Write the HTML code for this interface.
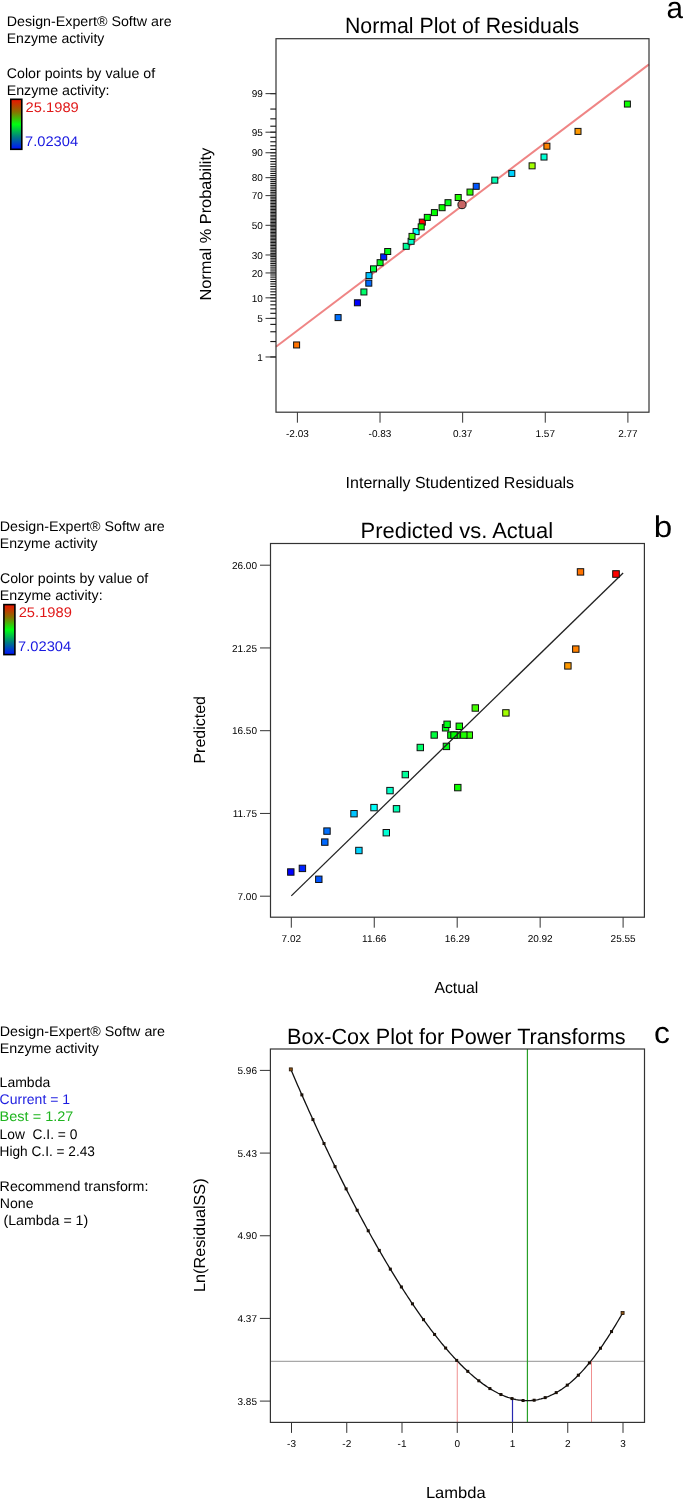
<!DOCTYPE html>
<html><head><meta charset="utf-8"><style>
html,body{margin:0;padding:0;background:#fff;}
body{width:685px;height:1499px;overflow:hidden;}
svg{display:block;font-family:"Liberation Sans",sans-serif;will-change:transform;text-rendering:geometricPrecision;}
</style></head><body>
<svg width="685" height="1499" viewBox="0 0 685 1499">
<rect width="685" height="1499" fill="#fff"/>
<defs><linearGradient id="cb" x1="0" y1="0" x2="0" y2="1"><stop offset="0" stop-color="#ee1100"/><stop offset="0.25" stop-color="#8a7000"/><stop offset="0.5" stop-color="#00ff10"/><stop offset="0.75" stop-color="#007f80"/><stop offset="1" stop-color="#0010ff"/></linearGradient></defs>
<text x="6.70" y="25.90" font-size="14" textLength="164.90" lengthAdjust="spacingAndGlyphs">Design-Expert® Softw are</text>
<text x="6.70" y="42.90" font-size="14" textLength="97.72" lengthAdjust="spacingAndGlyphs">Enzyme activity</text>
<text x="6.80" y="77.80" font-size="14" textLength="148.34" lengthAdjust="spacingAndGlyphs">Color points by value of</text>
<text x="6.70" y="94.80" font-size="14" textLength="102.79" lengthAdjust="spacingAndGlyphs">Enzyme activity:</text>
<rect x="10.80" y="99.30" width="11.00" height="50.00" fill="url(#cb)" stroke="#000" stroke-width="1.6"/>
<text x="25.60" y="111.70" font-size="14" textLength="53.20" lengthAdjust="spacingAndGlyphs" fill="#e01818">25.1989</text>
<text x="25.00" y="145.70" font-size="14" textLength="53.10" lengthAdjust="spacingAndGlyphs" fill="#1818e0">7.02304</text>
<text x="-0.20" y="531.20" font-size="14" textLength="164.90" lengthAdjust="spacingAndGlyphs">Design-Expert® Softw are</text>
<text x="-0.20" y="548.20" font-size="14" textLength="97.72" lengthAdjust="spacingAndGlyphs">Enzyme activity</text>
<text x="-0.10" y="583.10" font-size="14" textLength="148.34" lengthAdjust="spacingAndGlyphs">Color points by value of</text>
<text x="-0.20" y="600.10" font-size="14" textLength="102.79" lengthAdjust="spacingAndGlyphs">Enzyme activity:</text>
<rect x="3.90" y="604.60" width="11.00" height="50.00" fill="url(#cb)" stroke="#000" stroke-width="1.6"/>
<text x="18.70" y="617.00" font-size="14" textLength="53.20" lengthAdjust="spacingAndGlyphs" fill="#e01818">25.1989</text>
<text x="18.10" y="651.00" font-size="14" textLength="53.10" lengthAdjust="spacingAndGlyphs" fill="#1818e0">7.02304</text>
<text x="-0.20" y="1036.00" font-size="14" textLength="165.20" lengthAdjust="spacingAndGlyphs">Design-Expert® Softw are</text>
<text x="-0.20" y="1053.10" font-size="14" textLength="99.02" lengthAdjust="spacingAndGlyphs">Enzyme activity</text>
<text x="-0.40" y="1087.40" font-size="14" textLength="50.61" lengthAdjust="spacingAndGlyphs">Lambda</text>
<text x="-0.40" y="1104.30" font-size="14" textLength="70.41" lengthAdjust="spacingAndGlyphs" fill="#1c1ce0">Current = 1</text>
<text x="-0.40" y="1121.40" font-size="14" textLength="73.73" lengthAdjust="spacingAndGlyphs" fill="#1eb41e">Best = 1.27</text>
<text x="-0.40" y="1138.50" font-size="14" textLength="77.72" lengthAdjust="spacingAndGlyphs" xml:space="preserve">Low  C.I. = 0</text>
<text x="-0.40" y="1155.60" font-size="14" textLength="95.32" lengthAdjust="spacingAndGlyphs">High C.I. = 2.43</text>
<text x="-0.40" y="1190.70" font-size="14" textLength="148.77" lengthAdjust="spacingAndGlyphs">Recommend transform:</text>
<text x="-0.20" y="1207.80" font-size="14" textLength="33.71" lengthAdjust="spacingAndGlyphs">None</text>
<text x="3.50" y="1224.90" font-size="14" textLength="84.71" lengthAdjust="spacingAndGlyphs">(Lambda = 1)</text>
<text x="345.00" y="33.20" font-size="22" textLength="234.09" lengthAdjust="spacingAndGlyphs">Normal Plot of Residuals</text>
<text x="666.60" y="18.40" font-size="30" textLength="16.49" lengthAdjust="spacingAndGlyphs">a</text>
<line x1="276.00" y1="346.70" x2="649.00" y2="64.40" stroke="#ef8585" stroke-width="2.0"/>
<rect x="276.00" y="38.70" width="373.00" height="373.50" fill="none" stroke="#333" stroke-width="1.2"/>
<line x1="270.30" y1="356.97" x2="276.00" y2="356.97" stroke="#1a1a1a" stroke-width="1.15"/>
<line x1="270.30" y1="341.54" x2="276.00" y2="341.54" stroke="#1a1a1a" stroke-width="1.15"/>
<line x1="270.30" y1="331.75" x2="276.00" y2="331.75" stroke="#1a1a1a" stroke-width="1.15"/>
<line x1="270.30" y1="324.39" x2="276.00" y2="324.39" stroke="#1a1a1a" stroke-width="1.15"/>
<line x1="270.30" y1="318.40" x2="276.00" y2="318.40" stroke="#1a1a1a" stroke-width="1.15"/>
<line x1="270.30" y1="313.30" x2="276.00" y2="313.30" stroke="#1a1a1a" stroke-width="1.15"/>
<line x1="270.30" y1="308.83" x2="276.00" y2="308.83" stroke="#1a1a1a" stroke-width="1.15"/>
<line x1="270.30" y1="304.83" x2="276.00" y2="304.83" stroke="#1a1a1a" stroke-width="1.15"/>
<line x1="270.30" y1="301.19" x2="276.00" y2="301.19" stroke="#1a1a1a" stroke-width="1.15"/>
<line x1="270.30" y1="297.84" x2="276.00" y2="297.84" stroke="#1a1a1a" stroke-width="1.15"/>
<line x1="270.30" y1="294.72" x2="276.00" y2="294.72" stroke="#1a1a1a" stroke-width="1.15"/>
<line x1="270.30" y1="291.80" x2="276.00" y2="291.80" stroke="#1a1a1a" stroke-width="1.15"/>
<line x1="270.30" y1="289.05" x2="276.00" y2="289.05" stroke="#1a1a1a" stroke-width="1.15"/>
<line x1="270.30" y1="286.45" x2="276.00" y2="286.45" stroke="#1a1a1a" stroke-width="1.15"/>
<line x1="270.30" y1="283.96" x2="276.00" y2="283.96" stroke="#1a1a1a" stroke-width="1.15"/>
<line x1="270.30" y1="281.59" x2="276.00" y2="281.59" stroke="#1a1a1a" stroke-width="1.15"/>
<line x1="270.30" y1="279.31" x2="276.00" y2="279.31" stroke="#1a1a1a" stroke-width="1.15"/>
<line x1="270.30" y1="277.11" x2="276.00" y2="277.11" stroke="#1a1a1a" stroke-width="1.15"/>
<line x1="270.30" y1="274.99" x2="276.00" y2="274.99" stroke="#1a1a1a" stroke-width="1.15"/>
<line x1="270.30" y1="272.94" x2="276.00" y2="272.94" stroke="#1a1a1a" stroke-width="1.15"/>
<line x1="270.30" y1="270.94" x2="276.00" y2="270.94" stroke="#1a1a1a" stroke-width="1.15"/>
<line x1="270.30" y1="269.01" x2="276.00" y2="269.01" stroke="#1a1a1a" stroke-width="1.15"/>
<line x1="270.30" y1="267.12" x2="276.00" y2="267.12" stroke="#1a1a1a" stroke-width="1.15"/>
<line x1="270.30" y1="265.28" x2="276.00" y2="265.28" stroke="#1a1a1a" stroke-width="1.15"/>
<line x1="270.30" y1="263.48" x2="276.00" y2="263.48" stroke="#1a1a1a" stroke-width="1.15"/>
<line x1="270.30" y1="261.71" x2="276.00" y2="261.71" stroke="#1a1a1a" stroke-width="1.15"/>
<line x1="270.30" y1="259.99" x2="276.00" y2="259.99" stroke="#1a1a1a" stroke-width="1.15"/>
<line x1="270.30" y1="258.29" x2="276.00" y2="258.29" stroke="#1a1a1a" stroke-width="1.15"/>
<line x1="270.30" y1="256.62" x2="276.00" y2="256.62" stroke="#1a1a1a" stroke-width="1.15"/>
<line x1="270.30" y1="254.98" x2="276.00" y2="254.98" stroke="#1a1a1a" stroke-width="1.15"/>
<line x1="270.30" y1="253.37" x2="276.00" y2="253.37" stroke="#1a1a1a" stroke-width="1.15"/>
<line x1="270.30" y1="251.77" x2="276.00" y2="251.77" stroke="#1a1a1a" stroke-width="1.15"/>
<line x1="270.30" y1="250.20" x2="276.00" y2="250.20" stroke="#1a1a1a" stroke-width="1.15"/>
<line x1="270.30" y1="248.65" x2="276.00" y2="248.65" stroke="#1a1a1a" stroke-width="1.15"/>
<line x1="270.30" y1="247.11" x2="276.00" y2="247.11" stroke="#1a1a1a" stroke-width="1.15"/>
<line x1="270.30" y1="245.59" x2="276.00" y2="245.59" stroke="#1a1a1a" stroke-width="1.15"/>
<line x1="270.30" y1="244.08" x2="276.00" y2="244.08" stroke="#1a1a1a" stroke-width="1.15"/>
<line x1="270.30" y1="242.59" x2="276.00" y2="242.59" stroke="#1a1a1a" stroke-width="1.15"/>
<line x1="270.30" y1="241.11" x2="276.00" y2="241.11" stroke="#1a1a1a" stroke-width="1.15"/>
<line x1="270.30" y1="239.64" x2="276.00" y2="239.64" stroke="#1a1a1a" stroke-width="1.15"/>
<line x1="270.30" y1="238.18" x2="276.00" y2="238.18" stroke="#1a1a1a" stroke-width="1.15"/>
<line x1="270.30" y1="236.73" x2="276.00" y2="236.73" stroke="#1a1a1a" stroke-width="1.15"/>
<line x1="270.30" y1="235.28" x2="276.00" y2="235.28" stroke="#1a1a1a" stroke-width="1.15"/>
<line x1="270.30" y1="233.84" x2="276.00" y2="233.84" stroke="#1a1a1a" stroke-width="1.15"/>
<line x1="270.30" y1="232.41" x2="276.00" y2="232.41" stroke="#1a1a1a" stroke-width="1.15"/>
<line x1="270.30" y1="230.98" x2="276.00" y2="230.98" stroke="#1a1a1a" stroke-width="1.15"/>
<line x1="270.30" y1="229.56" x2="276.00" y2="229.56" stroke="#1a1a1a" stroke-width="1.15"/>
<line x1="270.30" y1="228.14" x2="276.00" y2="228.14" stroke="#1a1a1a" stroke-width="1.15"/>
<line x1="270.30" y1="226.72" x2="276.00" y2="226.72" stroke="#1a1a1a" stroke-width="1.15"/>
<line x1="270.30" y1="225.30" x2="276.00" y2="225.30" stroke="#1a1a1a" stroke-width="1.15"/>
<line x1="270.30" y1="223.88" x2="276.00" y2="223.88" stroke="#1a1a1a" stroke-width="1.15"/>
<line x1="270.30" y1="222.46" x2="276.00" y2="222.46" stroke="#1a1a1a" stroke-width="1.15"/>
<line x1="270.30" y1="221.04" x2="276.00" y2="221.04" stroke="#1a1a1a" stroke-width="1.15"/>
<line x1="270.30" y1="219.62" x2="276.00" y2="219.62" stroke="#1a1a1a" stroke-width="1.15"/>
<line x1="270.30" y1="218.19" x2="276.00" y2="218.19" stroke="#1a1a1a" stroke-width="1.15"/>
<line x1="270.30" y1="216.76" x2="276.00" y2="216.76" stroke="#1a1a1a" stroke-width="1.15"/>
<line x1="270.30" y1="215.32" x2="276.00" y2="215.32" stroke="#1a1a1a" stroke-width="1.15"/>
<line x1="270.30" y1="213.87" x2="276.00" y2="213.87" stroke="#1a1a1a" stroke-width="1.15"/>
<line x1="270.30" y1="212.42" x2="276.00" y2="212.42" stroke="#1a1a1a" stroke-width="1.15"/>
<line x1="270.30" y1="210.96" x2="276.00" y2="210.96" stroke="#1a1a1a" stroke-width="1.15"/>
<line x1="270.30" y1="209.49" x2="276.00" y2="209.49" stroke="#1a1a1a" stroke-width="1.15"/>
<line x1="270.30" y1="208.01" x2="276.00" y2="208.01" stroke="#1a1a1a" stroke-width="1.15"/>
<line x1="270.30" y1="206.52" x2="276.00" y2="206.52" stroke="#1a1a1a" stroke-width="1.15"/>
<line x1="270.30" y1="205.01" x2="276.00" y2="205.01" stroke="#1a1a1a" stroke-width="1.15"/>
<line x1="270.30" y1="203.49" x2="276.00" y2="203.49" stroke="#1a1a1a" stroke-width="1.15"/>
<line x1="270.30" y1="201.95" x2="276.00" y2="201.95" stroke="#1a1a1a" stroke-width="1.15"/>
<line x1="270.30" y1="200.40" x2="276.00" y2="200.40" stroke="#1a1a1a" stroke-width="1.15"/>
<line x1="270.30" y1="198.83" x2="276.00" y2="198.83" stroke="#1a1a1a" stroke-width="1.15"/>
<line x1="270.30" y1="197.23" x2="276.00" y2="197.23" stroke="#1a1a1a" stroke-width="1.15"/>
<line x1="270.30" y1="195.62" x2="276.00" y2="195.62" stroke="#1a1a1a" stroke-width="1.15"/>
<line x1="270.30" y1="193.98" x2="276.00" y2="193.98" stroke="#1a1a1a" stroke-width="1.15"/>
<line x1="270.30" y1="192.31" x2="276.00" y2="192.31" stroke="#1a1a1a" stroke-width="1.15"/>
<line x1="270.30" y1="190.61" x2="276.00" y2="190.61" stroke="#1a1a1a" stroke-width="1.15"/>
<line x1="270.30" y1="188.89" x2="276.00" y2="188.89" stroke="#1a1a1a" stroke-width="1.15"/>
<line x1="270.30" y1="187.12" x2="276.00" y2="187.12" stroke="#1a1a1a" stroke-width="1.15"/>
<line x1="270.30" y1="185.32" x2="276.00" y2="185.32" stroke="#1a1a1a" stroke-width="1.15"/>
<line x1="270.30" y1="183.48" x2="276.00" y2="183.48" stroke="#1a1a1a" stroke-width="1.15"/>
<line x1="270.30" y1="181.59" x2="276.00" y2="181.59" stroke="#1a1a1a" stroke-width="1.15"/>
<line x1="270.30" y1="179.66" x2="276.00" y2="179.66" stroke="#1a1a1a" stroke-width="1.15"/>
<line x1="270.30" y1="177.66" x2="276.00" y2="177.66" stroke="#1a1a1a" stroke-width="1.15"/>
<line x1="270.30" y1="175.61" x2="276.00" y2="175.61" stroke="#1a1a1a" stroke-width="1.15"/>
<line x1="270.30" y1="173.49" x2="276.00" y2="173.49" stroke="#1a1a1a" stroke-width="1.15"/>
<line x1="270.30" y1="171.29" x2="276.00" y2="171.29" stroke="#1a1a1a" stroke-width="1.15"/>
<line x1="270.30" y1="169.01" x2="276.00" y2="169.01" stroke="#1a1a1a" stroke-width="1.15"/>
<line x1="270.30" y1="166.64" x2="276.00" y2="166.64" stroke="#1a1a1a" stroke-width="1.15"/>
<line x1="270.30" y1="164.15" x2="276.00" y2="164.15" stroke="#1a1a1a" stroke-width="1.15"/>
<line x1="270.30" y1="161.55" x2="276.00" y2="161.55" stroke="#1a1a1a" stroke-width="1.15"/>
<line x1="270.30" y1="158.80" x2="276.00" y2="158.80" stroke="#1a1a1a" stroke-width="1.15"/>
<line x1="270.30" y1="155.88" x2="276.00" y2="155.88" stroke="#1a1a1a" stroke-width="1.15"/>
<line x1="270.30" y1="152.76" x2="276.00" y2="152.76" stroke="#1a1a1a" stroke-width="1.15"/>
<line x1="270.30" y1="149.41" x2="276.00" y2="149.41" stroke="#1a1a1a" stroke-width="1.15"/>
<line x1="270.30" y1="145.77" x2="276.00" y2="145.77" stroke="#1a1a1a" stroke-width="1.15"/>
<line x1="270.30" y1="141.77" x2="276.00" y2="141.77" stroke="#1a1a1a" stroke-width="1.15"/>
<line x1="270.30" y1="137.30" x2="276.00" y2="137.30" stroke="#1a1a1a" stroke-width="1.15"/>
<line x1="270.30" y1="132.20" x2="276.00" y2="132.20" stroke="#1a1a1a" stroke-width="1.15"/>
<line x1="270.30" y1="126.21" x2="276.00" y2="126.21" stroke="#1a1a1a" stroke-width="1.15"/>
<line x1="270.30" y1="118.85" x2="276.00" y2="118.85" stroke="#1a1a1a" stroke-width="1.15"/>
<line x1="270.30" y1="109.06" x2="276.00" y2="109.06" stroke="#1a1a1a" stroke-width="1.15"/>
<line x1="270.30" y1="93.63" x2="276.00" y2="93.63" stroke="#1a1a1a" stroke-width="1.15"/>
<line x1="265.50" y1="356.97" x2="276.00" y2="356.97" stroke="#333" stroke-width="1.0"/>
<text x="262.80" y="360.67" font-size="10" text-anchor="end">1</text>
<line x1="265.50" y1="318.40" x2="276.00" y2="318.40" stroke="#333" stroke-width="1.0"/>
<text x="262.80" y="322.10" font-size="10" text-anchor="end">5</text>
<line x1="265.50" y1="297.84" x2="276.00" y2="297.84" stroke="#333" stroke-width="1.0"/>
<text x="262.80" y="301.54" font-size="10" text-anchor="end">10</text>
<line x1="265.50" y1="272.94" x2="276.00" y2="272.94" stroke="#333" stroke-width="1.0"/>
<text x="262.80" y="276.64" font-size="10" text-anchor="end">20</text>
<line x1="265.50" y1="254.98" x2="276.00" y2="254.98" stroke="#333" stroke-width="1.0"/>
<text x="262.80" y="258.68" font-size="10" text-anchor="end">30</text>
<line x1="265.50" y1="225.30" x2="276.00" y2="225.30" stroke="#333" stroke-width="1.0"/>
<text x="262.80" y="229.00" font-size="10" text-anchor="end">50</text>
<line x1="265.50" y1="195.62" x2="276.00" y2="195.62" stroke="#333" stroke-width="1.0"/>
<text x="262.80" y="199.32" font-size="10" text-anchor="end">70</text>
<line x1="265.50" y1="177.66" x2="276.00" y2="177.66" stroke="#333" stroke-width="1.0"/>
<text x="262.80" y="181.36" font-size="10" text-anchor="end">80</text>
<line x1="265.50" y1="152.76" x2="276.00" y2="152.76" stroke="#333" stroke-width="1.0"/>
<text x="262.80" y="156.46" font-size="10" text-anchor="end">90</text>
<line x1="265.50" y1="132.20" x2="276.00" y2="132.20" stroke="#333" stroke-width="1.0"/>
<text x="262.80" y="135.90" font-size="10" text-anchor="end">95</text>
<line x1="265.50" y1="93.63" x2="276.00" y2="93.63" stroke="#333" stroke-width="1.0"/>
<text x="262.80" y="97.33" font-size="10" text-anchor="end">99</text>
<line x1="297.40" y1="412.20" x2="297.40" y2="422.70" stroke="#333" stroke-width="1.0"/>
<text x="297.40" y="436.50" font-size="10" text-anchor="middle">-2.03</text>
<line x1="380.02" y1="412.20" x2="380.02" y2="422.70" stroke="#333" stroke-width="1.0"/>
<text x="380.02" y="436.50" font-size="10" text-anchor="middle">-0.83</text>
<line x1="462.65" y1="412.20" x2="462.65" y2="422.70" stroke="#333" stroke-width="1.0"/>
<text x="462.65" y="436.50" font-size="10" text-anchor="middle">0.37</text>
<line x1="545.27" y1="412.20" x2="545.27" y2="422.70" stroke="#333" stroke-width="1.0"/>
<text x="545.27" y="436.50" font-size="10" text-anchor="middle">1.57</text>
<line x1="627.90" y1="412.20" x2="627.90" y2="422.70" stroke="#333" stroke-width="1.0"/>
<text x="627.90" y="436.50" font-size="10" text-anchor="middle">2.77</text>
<text x="345.60" y="487.80" font-size="16" textLength="228.52" lengthAdjust="spacingAndGlyphs">Internally Studentized Residuals</text>
<text transform="translate(210.70,0) rotate(-90)" x="-300.60" y="0" font-size="16" textLength="152.73" lengthAdjust="spacingAndGlyphs">Normal % Probability</text>
<rect x="419.30" y="219.13" width="6.00" height="6.00" fill="#ff0300" stroke="#111" stroke-width="1.0"/>
<rect x="293.60" y="341.95" width="6.00" height="6.00" fill="#ff7200" stroke="#111" stroke-width="1.0"/>
<rect x="335.10" y="314.60" width="6.00" height="6.00" fill="#0070ff" stroke="#111" stroke-width="1.0"/>
<rect x="354.40" y="299.78" width="6.00" height="6.00" fill="#0000ff" stroke="#111" stroke-width="1.0"/>
<rect x="360.90" y="288.96" width="6.00" height="6.00" fill="#00ff6a" stroke="#111" stroke-width="1.0"/>
<rect x="365.80" y="280.16" width="6.00" height="6.00" fill="#0069ff" stroke="#111" stroke-width="1.0"/>
<rect x="366.00" y="272.59" width="6.00" height="6.00" fill="#00c4ff" stroke="#111" stroke-width="1.0"/>
<rect x="370.50" y="265.85" width="6.00" height="6.00" fill="#00ff3e" stroke="#111" stroke-width="1.0"/>
<rect x="377.10" y="259.68" width="6.00" height="6.00" fill="#00ff16" stroke="#111" stroke-width="1.0"/>
<rect x="380.70" y="253.93" width="6.00" height="6.00" fill="#0023ff" stroke="#111" stroke-width="1.0"/>
<rect x="384.70" y="248.50" width="6.00" height="6.00" fill="#00ff1b" stroke="#111" stroke-width="1.0"/>
<rect x="403.20" y="243.31" width="6.00" height="6.00" fill="#00ff99" stroke="#111" stroke-width="1.0"/>
<rect x="408.10" y="238.30" width="6.00" height="6.00" fill="#00ffc9" stroke="#111" stroke-width="1.0"/>
<rect x="413.10" y="228.61" width="6.00" height="6.00" fill="#00fffb" stroke="#111" stroke-width="1.0"/>
<rect x="409.00" y="233.41" width="6.00" height="6.00" fill="#42ff00" stroke="#111" stroke-width="1.0"/>
<rect x="418.20" y="223.87" width="6.00" height="6.00" fill="#10ff00" stroke="#111" stroke-width="1.0"/>
<rect x="424.30" y="214.39" width="6.00" height="6.00" fill="#00ff0a" stroke="#111" stroke-width="1.0"/>
<rect x="431.40" y="209.59" width="6.00" height="6.00" fill="#00ff00" stroke="#111" stroke-width="1.0"/>
<rect x="439.10" y="204.70" width="6.00" height="6.00" fill="#09ff00" stroke="#111" stroke-width="1.0"/>
<rect x="445.00" y="199.69" width="6.00" height="6.00" fill="#00ff18" stroke="#111" stroke-width="1.0"/>
<rect x="455.20" y="194.50" width="6.00" height="6.00" fill="#1eff00" stroke="#111" stroke-width="1.0"/>
<rect x="467.00" y="189.07" width="6.00" height="6.00" fill="#30ff00" stroke="#111" stroke-width="1.0"/>
<rect x="473.20" y="183.32" width="6.00" height="6.00" fill="#0056ff" stroke="#111" stroke-width="1.0"/>
<rect x="491.80" y="177.15" width="6.00" height="6.00" fill="#00ffb4" stroke="#111" stroke-width="1.0"/>
<rect x="508.80" y="170.41" width="6.00" height="6.00" fill="#00d4ff" stroke="#111" stroke-width="1.0"/>
<rect x="529.10" y="162.84" width="6.00" height="6.00" fill="#a2ff00" stroke="#111" stroke-width="1.0"/>
<rect x="541.00" y="154.04" width="6.00" height="6.00" fill="#00ffd4" stroke="#111" stroke-width="1.0"/>
<rect x="543.90" y="143.22" width="6.00" height="6.00" fill="#ff8100" stroke="#111" stroke-width="1.0"/>
<rect x="575.00" y="128.40" width="6.00" height="6.00" fill="#ff9900" stroke="#111" stroke-width="1.0"/>
<rect x="624.40" y="101.05" width="6.00" height="6.00" fill="#0cff00" stroke="#111" stroke-width="1.0"/>
<circle cx="462.0" cy="204.6" r="4.1" fill="#c86464" stroke="#111" stroke-width="1"/>
<text x="360.60" y="538.30" font-size="22" textLength="192.45" lengthAdjust="spacingAndGlyphs">Predicted vs. Actual</text>
<text x="653.70" y="537.20" font-size="30" textLength="18.44" lengthAdjust="spacingAndGlyphs">b</text>
<rect x="270.50" y="543.50" width="373.90" height="373.70" fill="none" stroke="#333" stroke-width="1.2"/>
<line x1="291.30" y1="917.20" x2="291.30" y2="927.70" stroke="#333" stroke-width="1.0"/>
<text x="291.30" y="941.60" font-size="10" text-anchor="middle">7.02</text>
<line x1="374.25" y1="917.20" x2="374.25" y2="927.70" stroke="#333" stroke-width="1.0"/>
<text x="374.25" y="941.60" font-size="10" text-anchor="middle">11.66</text>
<line x1="457.20" y1="917.20" x2="457.20" y2="927.70" stroke="#333" stroke-width="1.0"/>
<text x="457.20" y="941.60" font-size="10" text-anchor="middle">16.29</text>
<line x1="540.15" y1="917.20" x2="540.15" y2="927.70" stroke="#333" stroke-width="1.0"/>
<text x="540.15" y="941.60" font-size="10" text-anchor="middle">20.92</text>
<line x1="623.10" y1="917.20" x2="623.10" y2="927.70" stroke="#333" stroke-width="1.0"/>
<text x="623.10" y="941.60" font-size="10" text-anchor="middle">25.55</text>
<line x1="260.00" y1="896.20" x2="270.50" y2="896.20" stroke="#333" stroke-width="1.0"/>
<text x="257.00" y="899.90" font-size="10" text-anchor="end">7.00</text>
<line x1="260.00" y1="813.45" x2="270.50" y2="813.45" stroke="#333" stroke-width="1.0"/>
<text x="257.00" y="817.15" font-size="10" text-anchor="end">11.75</text>
<line x1="260.00" y1="730.70" x2="270.50" y2="730.70" stroke="#333" stroke-width="1.0"/>
<text x="257.00" y="734.40" font-size="10" text-anchor="end">16.50</text>
<line x1="260.00" y1="647.95" x2="270.50" y2="647.95" stroke="#333" stroke-width="1.0"/>
<text x="257.00" y="651.65" font-size="10" text-anchor="end">21.25</text>
<line x1="260.00" y1="565.20" x2="270.50" y2="565.20" stroke="#333" stroke-width="1.0"/>
<text x="257.00" y="568.90" font-size="10" text-anchor="end">26.00</text>
<text x="434.40" y="992.80" font-size="16" textLength="43.89" lengthAdjust="spacingAndGlyphs">Actual</text>
<text transform="translate(204.90,0) rotate(-90)" x="-763.60" y="0" font-size="16" textLength="67.50" lengthAdjust="spacingAndGlyphs">Predicted</text>
<rect x="287.60" y="868.80" width="6.40" height="6.40" fill="#0000ff" stroke="#111" stroke-width="1.0"/>
<rect x="299.20" y="865.20" width="6.40" height="6.40" fill="#0023ff" stroke="#111" stroke-width="1.0"/>
<rect x="315.60" y="876.10" width="6.40" height="6.40" fill="#0056ff" stroke="#111" stroke-width="1.0"/>
<rect x="321.60" y="838.90" width="6.40" height="6.40" fill="#0069ff" stroke="#111" stroke-width="1.0"/>
<rect x="323.80" y="827.90" width="6.40" height="6.40" fill="#0070ff" stroke="#111" stroke-width="1.0"/>
<rect x="350.80" y="810.50" width="6.40" height="6.40" fill="#00c4ff" stroke="#111" stroke-width="1.0"/>
<rect x="355.70" y="847.30" width="6.40" height="6.40" fill="#00d4ff" stroke="#111" stroke-width="1.0"/>
<rect x="370.80" y="804.40" width="6.40" height="6.40" fill="#00fffb" stroke="#111" stroke-width="1.0"/>
<rect x="383.10" y="829.50" width="6.40" height="6.40" fill="#00ffd4" stroke="#111" stroke-width="1.0"/>
<rect x="386.80" y="787.40" width="6.40" height="6.40" fill="#00ffc9" stroke="#111" stroke-width="1.0"/>
<rect x="393.30" y="805.60" width="6.40" height="6.40" fill="#00ffb4" stroke="#111" stroke-width="1.0"/>
<rect x="402.10" y="771.40" width="6.40" height="6.40" fill="#00ff99" stroke="#111" stroke-width="1.0"/>
<rect x="417.10" y="744.30" width="6.40" height="6.40" fill="#00ff6a" stroke="#111" stroke-width="1.0"/>
<rect x="431.00" y="731.80" width="6.40" height="6.40" fill="#00ff3e" stroke="#111" stroke-width="1.0"/>
<rect x="442.40" y="724.60" width="6.40" height="6.40" fill="#00ff1b" stroke="#111" stroke-width="1.0"/>
<rect x="443.90" y="721.10" width="6.40" height="6.40" fill="#00ff16" stroke="#111" stroke-width="1.0"/>
<rect x="443.20" y="743.20" width="6.40" height="6.40" fill="#00ff18" stroke="#111" stroke-width="1.0"/>
<rect x="447.70" y="731.90" width="6.40" height="6.40" fill="#00ff0a" stroke="#111" stroke-width="1.0"/>
<rect x="453.60" y="731.90" width="6.40" height="6.40" fill="#09ff00" stroke="#111" stroke-width="1.0"/>
<rect x="450.80" y="731.90" width="6.40" height="6.40" fill="#00ff00" stroke="#111" stroke-width="1.0"/>
<rect x="466.10" y="731.90" width="6.40" height="6.40" fill="#30ff00" stroke="#111" stroke-width="1.0"/>
<rect x="460.60" y="731.90" width="6.40" height="6.40" fill="#1eff00" stroke="#111" stroke-width="1.0"/>
<rect x="456.10" y="723.10" width="6.40" height="6.40" fill="#10ff00" stroke="#111" stroke-width="1.0"/>
<rect x="454.60" y="784.40" width="6.40" height="6.40" fill="#0cff00" stroke="#111" stroke-width="1.0"/>
<rect x="472.10" y="704.80" width="6.40" height="6.40" fill="#42ff00" stroke="#111" stroke-width="1.0"/>
<rect x="502.70" y="709.70" width="6.40" height="6.40" fill="#a2ff00" stroke="#111" stroke-width="1.0"/>
<rect x="564.70" y="662.70" width="6.40" height="6.40" fill="#ff9900" stroke="#111" stroke-width="1.0"/>
<rect x="572.60" y="645.90" width="6.40" height="6.40" fill="#ff8100" stroke="#111" stroke-width="1.0"/>
<rect x="577.30" y="568.70" width="6.40" height="6.40" fill="#ff7200" stroke="#111" stroke-width="1.0"/>
<line x1="291.30" y1="895.85" x2="623.10" y2="573.04" stroke="#222" stroke-width="1.3"/>
<rect x="612.70" y="570.70" width="6.60" height="6.60" fill="#ff0300" stroke="#111" stroke-width="1.0"/>
<text x="287.00" y="1043.80" font-size="22" textLength="338.64" lengthAdjust="spacingAndGlyphs">Box-Cox Plot for Power Transforms</text>
<text x="653.90" y="1042.60" font-size="30" textLength="15.90" lengthAdjust="spacingAndGlyphs">c</text>
<line x1="270.40" y1="1361.40" x2="644.50" y2="1361.40" stroke="#a8a8a8" stroke-width="1.1"/>
<line x1="457.25" y1="1361.00" x2="457.25" y2="1422.40" stroke="#f09090" stroke-width="1.0"/>
<line x1="591.51" y1="1361.00" x2="591.51" y2="1422.40" stroke="#f09090" stroke-width="1.0"/>
<line x1="512.50" y1="1399.20" x2="512.50" y2="1422.40" stroke="#2828b0" stroke-width="1.2"/>
<line x1="527.42" y1="1049.00" x2="527.42" y2="1422.40" stroke="#28a028" stroke-width="1.2"/>
<rect x="270.40" y="1049.00" width="374.10" height="373.40" fill="none" stroke="#333" stroke-width="1.2"/>
<line x1="291.50" y1="1422.40" x2="291.50" y2="1432.90" stroke="#333" stroke-width="1.0"/>
<text x="291.50" y="1446.60" font-size="10" text-anchor="middle">-3</text>
<line x1="346.75" y1="1422.40" x2="346.75" y2="1432.90" stroke="#333" stroke-width="1.0"/>
<text x="346.75" y="1446.60" font-size="10" text-anchor="middle">-2</text>
<line x1="402.00" y1="1422.40" x2="402.00" y2="1432.90" stroke="#333" stroke-width="1.0"/>
<text x="402.00" y="1446.60" font-size="10" text-anchor="middle">-1</text>
<line x1="457.25" y1="1422.40" x2="457.25" y2="1432.90" stroke="#333" stroke-width="1.0"/>
<text x="457.25" y="1446.60" font-size="10" text-anchor="middle">0</text>
<line x1="512.50" y1="1422.40" x2="512.50" y2="1432.90" stroke="#333" stroke-width="1.0"/>
<text x="512.50" y="1446.60" font-size="10" text-anchor="middle">1</text>
<line x1="567.75" y1="1422.40" x2="567.75" y2="1432.90" stroke="#333" stroke-width="1.0"/>
<text x="567.75" y="1446.60" font-size="10" text-anchor="middle">2</text>
<line x1="623.00" y1="1422.40" x2="623.00" y2="1432.90" stroke="#333" stroke-width="1.0"/>
<text x="623.00" y="1446.60" font-size="10" text-anchor="middle">3</text>
<line x1="259.90" y1="1070.40" x2="270.40" y2="1070.40" stroke="#333" stroke-width="1.0"/>
<text x="257.00" y="1074.10" font-size="10" text-anchor="end">5.96</text>
<line x1="259.90" y1="1153.08" x2="270.40" y2="1153.08" stroke="#333" stroke-width="1.0"/>
<text x="257.00" y="1156.78" font-size="10" text-anchor="end">5.43</text>
<line x1="259.90" y1="1235.75" x2="270.40" y2="1235.75" stroke="#333" stroke-width="1.0"/>
<text x="257.00" y="1239.45" font-size="10" text-anchor="end">4.90</text>
<line x1="259.90" y1="1318.42" x2="270.40" y2="1318.42" stroke="#333" stroke-width="1.0"/>
<text x="257.00" y="1322.12" font-size="10" text-anchor="end">4.37</text>
<line x1="259.90" y1="1401.10" x2="270.40" y2="1401.10" stroke="#333" stroke-width="1.0"/>
<text x="257.00" y="1404.80" font-size="10" text-anchor="end">3.85</text>
<text x="425.90" y="1497.70" font-size="16" textLength="59.70" lengthAdjust="spacingAndGlyphs">Lambda</text>
<text transform="translate(204.90,0) rotate(-90)" x="-1292.00" y="0" font-size="16" textLength="113.58" lengthAdjust="spacingAndGlyphs">Ln(ResidualSS)</text>
<path d="M290.81,1069.39 L292.19,1072.61 L293.58,1075.82 L294.96,1079.03 L296.34,1082.22 L297.72,1085.40 L299.11,1088.56 L300.49,1091.72 L301.87,1094.87 L303.25,1098.00 L304.64,1101.12 L306.02,1104.23 L307.40,1107.33 L308.78,1110.42 L310.17,1113.49 L311.55,1116.55 L312.93,1119.60 L314.31,1122.64 L315.70,1125.66 L317.08,1128.67 L318.46,1131.67 L319.84,1134.65 L321.22,1137.63 L322.61,1140.59 L323.99,1143.53 L325.37,1146.47 L326.75,1149.39 L328.14,1152.29 L329.52,1155.19 L330.90,1158.07 L332.28,1160.94 L333.67,1163.79 L335.05,1166.63 L336.43,1169.46 L337.81,1172.27 L339.20,1175.07 L340.58,1177.86 L341.96,1180.63 L343.34,1183.39 L344.73,1186.14 L346.11,1188.87 L347.49,1191.59 L348.87,1194.30 L350.26,1196.99 L351.64,1199.67 L353.02,1202.34 L354.40,1204.99 L355.78,1207.63 L357.17,1210.25 L358.55,1212.87 L359.93,1215.46 L361.31,1218.05 L362.70,1220.62 L364.08,1223.17 L365.46,1225.72 L366.84,1228.25 L368.23,1230.76 L369.61,1233.27 L370.99,1235.75 L372.37,1238.23 L373.76,1240.69 L375.14,1243.14 L376.52,1245.57 L377.90,1247.99 L379.29,1250.40 L380.67,1252.79 L382.05,1255.16 L383.43,1257.53 L384.82,1259.88 L386.20,1262.21 L387.58,1264.53 L388.96,1266.84 L390.34,1269.13 L391.73,1271.41 L393.11,1273.68 L394.49,1275.93 L395.87,1278.16 L397.26,1280.38 L398.64,1282.59 L400.02,1284.78 L401.40,1286.96 L402.79,1289.12 L404.17,1291.26 L405.55,1293.39 L406.93,1295.51 L408.32,1297.61 L409.70,1299.70 L411.08,1301.77 L412.46,1303.82 L413.85,1305.86 L415.23,1307.88 L416.61,1309.89 L417.99,1311.88 L419.38,1313.85 L420.76,1315.81 L422.14,1317.75 L423.52,1319.68 L424.90,1321.58 L426.29,1323.48 L427.67,1325.35 L429.05,1327.20 L430.43,1329.04 L431.82,1330.86 L433.20,1332.67 L434.58,1334.45 L435.96,1336.22 L437.35,1337.97 L438.73,1339.70 L440.11,1341.41 L441.49,1343.10 L442.88,1344.77 L444.26,1346.43 L445.64,1348.06 L447.02,1349.68 L448.41,1351.27 L449.79,1352.84 L451.17,1354.40 L452.55,1355.93 L453.94,1357.44 L455.32,1358.93 L456.70,1360.40 L458.08,1361.85 L459.46,1363.27 L460.85,1364.68 L462.23,1366.06 L463.61,1367.42 L464.99,1368.75 L466.38,1370.07 L467.76,1371.35 L469.14,1372.62 L470.52,1373.86 L471.91,1375.08 L473.29,1376.27 L474.67,1377.44 L476.05,1378.58 L477.44,1379.70 L478.82,1380.79 L480.20,1381.86 L481.58,1382.89 L482.97,1383.91 L484.35,1384.89 L485.73,1385.85 L487.11,1386.79 L488.50,1387.69 L489.88,1388.57 L491.26,1389.42 L492.64,1390.24 L494.02,1391.03 L495.41,1391.79 L496.79,1392.52 L498.17,1393.23 L499.55,1393.90 L500.94,1394.54 L502.32,1395.16 L503.70,1395.74 L505.08,1396.29 L506.47,1396.81 L507.85,1397.30 L509.23,1397.75 L510.61,1398.18 L512.00,1398.57 L513.38,1398.93 L514.76,1399.26 L516.14,1399.55 L517.53,1399.81 L518.91,1400.04 L520.29,1400.23 L521.67,1400.39 L523.06,1400.51 L524.44,1400.60 L525.82,1400.65 L527.20,1400.67 L528.58,1400.66 L529.97,1400.60 L531.35,1400.52 L532.73,1400.39 L534.11,1400.23 L535.50,1400.03 L536.88,1399.80 L538.26,1399.53 L539.64,1399.22 L541.03,1398.88 L542.41,1398.50 L543.79,1398.08 L545.17,1397.62 L546.56,1397.13 L547.94,1396.60 L549.32,1396.03 L550.70,1395.42 L552.09,1394.77 L553.47,1394.09 L554.85,1393.37 L556.23,1392.61 L557.62,1391.81 L559.00,1390.97 L560.38,1390.09 L561.76,1389.18 L563.14,1388.22 L564.53,1387.23 L565.91,1386.20 L567.29,1385.13 L568.67,1384.02 L570.06,1382.88 L571.44,1381.69 L572.82,1380.47 L574.20,1379.21 L575.59,1377.91 L576.97,1376.57 L578.35,1375.20 L579.73,1373.78 L581.12,1372.33 L582.50,1370.85 L583.88,1369.32 L585.26,1367.76 L586.65,1366.16 L588.03,1364.53 L589.41,1362.86 L590.79,1361.15 L592.18,1359.41 L593.56,1357.64 L594.94,1355.83 L596.32,1353.98 L597.70,1352.10 L599.09,1350.19 L600.47,1348.24 L601.85,1346.27 L603.23,1344.26 L604.62,1342.22 L606.00,1340.14 L607.38,1338.04 L608.76,1335.91 L610.15,1333.75 L611.53,1331.56 L612.91,1329.34 L614.29,1327.10 L615.68,1324.82 L617.06,1322.53 L618.44,1320.21 L619.82,1317.86 L621.21,1315.49 L622.59,1313.10" fill="none" stroke="#111" stroke-width="1.3" stroke-linejoin="round"/>
<rect x="289.31" y="1067.89" width="3" height="3" fill="#8a5518" stroke="#221408" stroke-width="0.8"/>
<rect x="300.37" y="1093.37" width="3" height="3" fill="#1a1008"/>
<rect x="311.43" y="1118.10" width="3" height="3" fill="#1a1008"/>
<rect x="322.49" y="1142.03" width="3" height="3" fill="#1a1008"/>
<rect x="333.55" y="1165.13" width="3" height="3" fill="#1a1008"/>
<rect x="344.61" y="1187.37" width="3" height="3" fill="#1a1008"/>
<rect x="355.67" y="1208.75" width="3" height="3" fill="#1a1008"/>
<rect x="366.73" y="1229.26" width="3" height="3" fill="#1a1008"/>
<rect x="377.79" y="1248.90" width="3" height="3" fill="#1a1008"/>
<rect x="388.84" y="1267.63" width="3" height="3" fill="#1a1008"/>
<rect x="399.90" y="1285.46" width="3" height="3" fill="#1a1008"/>
<rect x="410.96" y="1302.32" width="3" height="3" fill="#1a1008"/>
<rect x="422.02" y="1318.18" width="3" height="3" fill="#1a1008"/>
<rect x="433.08" y="1332.95" width="3" height="3" fill="#1a1008"/>
<rect x="444.14" y="1346.56" width="3" height="3" fill="#1a1008"/>
<rect x="455.20" y="1358.90" width="3" height="3" fill="#1a1008"/>
<rect x="466.26" y="1369.85" width="3" height="3" fill="#1a1008"/>
<rect x="477.32" y="1379.29" width="3" height="3" fill="#1a1008"/>
<rect x="488.38" y="1387.07" width="3" height="3" fill="#1a1008"/>
<rect x="499.44" y="1393.04" width="3" height="3" fill="#1a1008"/>
<rect x="510.50" y="1397.07" width="3" height="3" fill="#1a1008"/>
<rect x="521.56" y="1399.01" width="3" height="3" fill="#1a1008"/>
<rect x="532.61" y="1398.73" width="3" height="3" fill="#1a1008"/>
<rect x="543.67" y="1396.12" width="3" height="3" fill="#1a1008"/>
<rect x="554.73" y="1391.11" width="3" height="3" fill="#1a1008"/>
<rect x="565.79" y="1383.63" width="3" height="3" fill="#1a1008"/>
<rect x="576.85" y="1373.70" width="3" height="3" fill="#1a1008"/>
<rect x="587.91" y="1361.36" width="3" height="3" fill="#1a1008"/>
<rect x="598.97" y="1346.74" width="3" height="3" fill="#1a1008"/>
<rect x="610.03" y="1330.06" width="3" height="3" fill="#1a1008"/>
<rect x="621.09" y="1311.60" width="3" height="3" fill="#8a5518" stroke="#221408" stroke-width="0.8"/>
</svg>
</body></html>
